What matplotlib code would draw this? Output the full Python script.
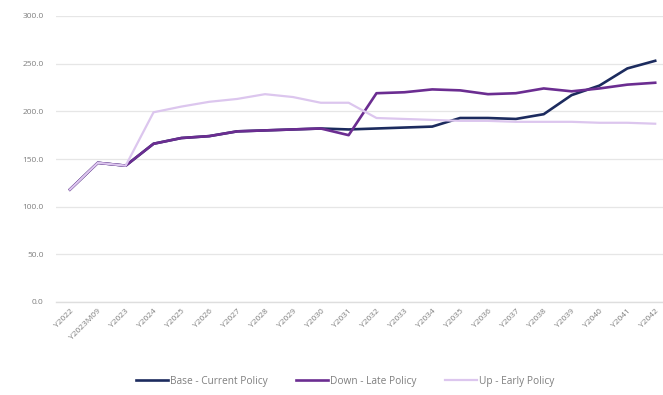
import matplotlib.pyplot as plt

# scenario index values by period
periods = ["Y2022", "Y2023M09", "Y2023", "Y2024", "Y2025", "Y2026", "Y2027",
           "Y2028", "Y2029", "Y2030", "Y2031", "Y2032", "Y2033", "Y2034",
           "Y2035", "Y2036", "Y2037", "Y2038", "Y2039", "Y2040", "Y2041", "Y2042"]
base = [118, 146, 143, 166, 172, 174, 179, 180, 181, 182, 181,
        182, 183, 184, 193, 193, 192, 197, 217, 227, 245, 253]
down = [118, 146, 143, 166, 172, 174, 179, 180, 181, 182, 175,
        219, 220, 223, 222, 218, 219, 224, 221, 224, 228, 230]
up = [118, 146, 143, 199, 205, 210, 213, 218, 215, 209, 209,
      193, 192, 191, 190, 190, 189, 189, 189, 188, 188, 187]
series_names = ["Base - Current Policy", "Down - Late Policy", "Up - Early Policy"]

plt.rcParams['font.family'] = ['Open Sans', 'DejaVu Sans']

fig = plt.figure(figsize=(6.63, 3.95), dpi=100)
ax = fig.add_axes([56 / 663, 93 / 395, 607 / 663, 286 / 395])

x = range(len(periods))
ax.plot(x, base, color='#1c2b5e', lw=1.9, label=series_names[0])
ax.plot(x, down, color='#6b2d91', lw=1.9, label=series_names[1])
ax.plot(x, up, color='#dcc6ee', lw=1.6, label=series_names[2])

ax.set_ylim(0, 300)
ax.set_xlim(-0.5, 21.28)
ax.set_yticks(range(0, 301, 50))
ax.set_yticklabels([f"{v:.1f}" for v in range(0, 301, 50)])
ax.set_xticks(list(x))
ax.set_xticklabels(periods, rotation=45, ha='right', rotation_mode='anchor')
ax.tick_params(axis='both', length=0, labelsize=6, labelcolor='#7f7f7f')
ax.tick_params(axis='y', pad=9)
ax.tick_params(axis='x', pad=4)

ax.grid(axis='y', color='#e6e6e6', lw=0.9)
ax.set_axisbelow(True)
for s in ['top', 'right', 'left']:
    ax.spines[s].set_visible(False)
ax.spines['bottom'].set_color('#dedede')
ax.spines['bottom'].set_linewidth(1.0)

fig.legend(loc='center', bbox_to_anchor=(0.52, 0.035), ncol=3, frameon=False,
           fontsize=7.3, labelcolor='#7f7f7f', handlelength=3.2,
           handletextpad=0.15, columnspacing=2.8)

fig.savefig('out.png', dpi=100)
